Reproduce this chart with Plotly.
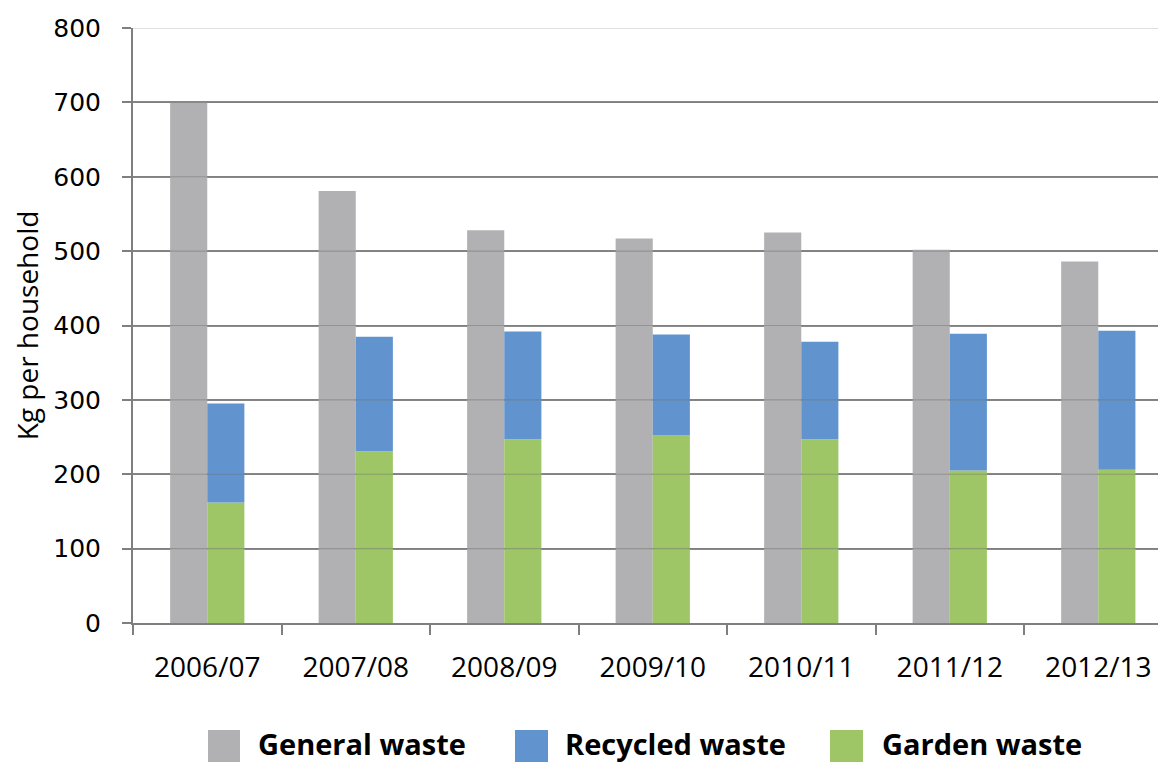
import plotly.graph_objects as go

years = ["2006/07", "2007/08", "2008/09", "2009/10", "2010/11", "2011/12", "2012/13"]
general_waste = [700, 581, 528, 517, 525, 502, 486]
garden_waste = [162, 231, 247, 252, 247, 205, 206]
recycled_waste = [133, 154, 145, 136, 131, 184, 187]

y_ticks = [0, 100, 200, 300, 400, 500, 600, 700, 800]

GREY = "#B1B1B3"
BLUE = "#6194CE"
GREEN = "#9FC666"
AXIS = "#7F7F7F"

fig = go.Figure()
fig.add_trace(go.Bar(x=years, y=general_waste, name="General waste",
                     marker=dict(color=GREY, line=dict(width=0)),
                     width=0.25, offset=-0.25))
fig.add_trace(go.Bar(x=years, y=garden_waste, name="Garden waste",
                     marker=dict(color=GREEN, line=dict(width=0)),
                     width=0.25, offset=0))
fig.add_trace(go.Bar(x=years, y=recycled_waste, base=garden_waste, name="Recycled waste",
                     marker=dict(color=BLUE, line=dict(width=0)),
                     width=0.25, offset=0))

# gridlines drawn over the bars (as in the reference), semi-transparent
shapes = []
for v in y_ticks[1:]:
    shapes.append(dict(type="line", xref="paper", yref="y", x0=0, x1=1, y0=v, y1=v,
                       line=dict(color="rgba(110,110,110,0.45)", width=1.2), layer="above"))

# custom legend (large square swatches); window-pixel helpers
PH = 595.0
PW = 1033.0
def px_x(p):
    return (p - 133) / PW
def px_y(p):
    return (623 - p) / PH

legend_items = [("General waste", GREY, 208, 240, 256),
                ("Recycled waste", BLUE, 515, 548, 563),
                ("Garden waste", GREEN, 830, 863, 880)]
annotations = []
for label, col, x0, x1, tx in legend_items:
    shapes.append(dict(type="rect", xref="paper", yref="paper",
                       x0=px_x(x0), x1=px_x(x1), y0=px_y(762), y1=px_y(730),
                       fillcolor=col, line=dict(width=0)))
    annotations.append(dict(xref="paper", yref="paper", x=px_x(tx), y=px_y(743),
                            xanchor="left", yanchor="middle", showarrow=False,
                            text="<b>%s</b>" % label,
                            font=dict(family="Open Sans", size=29, color="#000000")))

# page has an 8px body margin: size the figure so it fills the 1166x762 window
fig.update_layout(
    width=1158, height=754,
    margin=dict(l=125, r=0, t=20, b=139),
    plot_bgcolor="white", paper_bgcolor="white",
    barmode="overlay",
    showlegend=False,
    shapes=shapes,
    annotations=annotations,
    xaxis=dict(
        type="category",
        range=[-0.5, 6.456],
        showgrid=False,
        showline=True, linecolor=AXIS, linewidth=2,
        ticks="outside", tickson="boundaries", ticklen=10, tickwidth=1.5, tickcolor=AXIS,
        tickfont=dict(family="Open Sans", size=28, color="#000000"),
        ticklabelstandoff=18,
    ),
    yaxis=dict(
        range=[0, 800],
        tickvals=y_ticks,
        showgrid=True, gridcolor="#8C8C8C", gridwidth=1.5,
        showline=True, linecolor=AXIS, linewidth=2,
        ticks="outside", ticklen=9, tickwidth=1.5, tickcolor=AXIS,
        tickfont=dict(family="DejaVu Sans", size=25, color="#000000"),
        ticklabelstandoff=16,
        zeroline=False,
        title=dict(text="Kg per household", standoff=14,
                   font=dict(family="Open Sans", size=28, color="#000000")),
    ),
)

fig.write_html("out.html")
